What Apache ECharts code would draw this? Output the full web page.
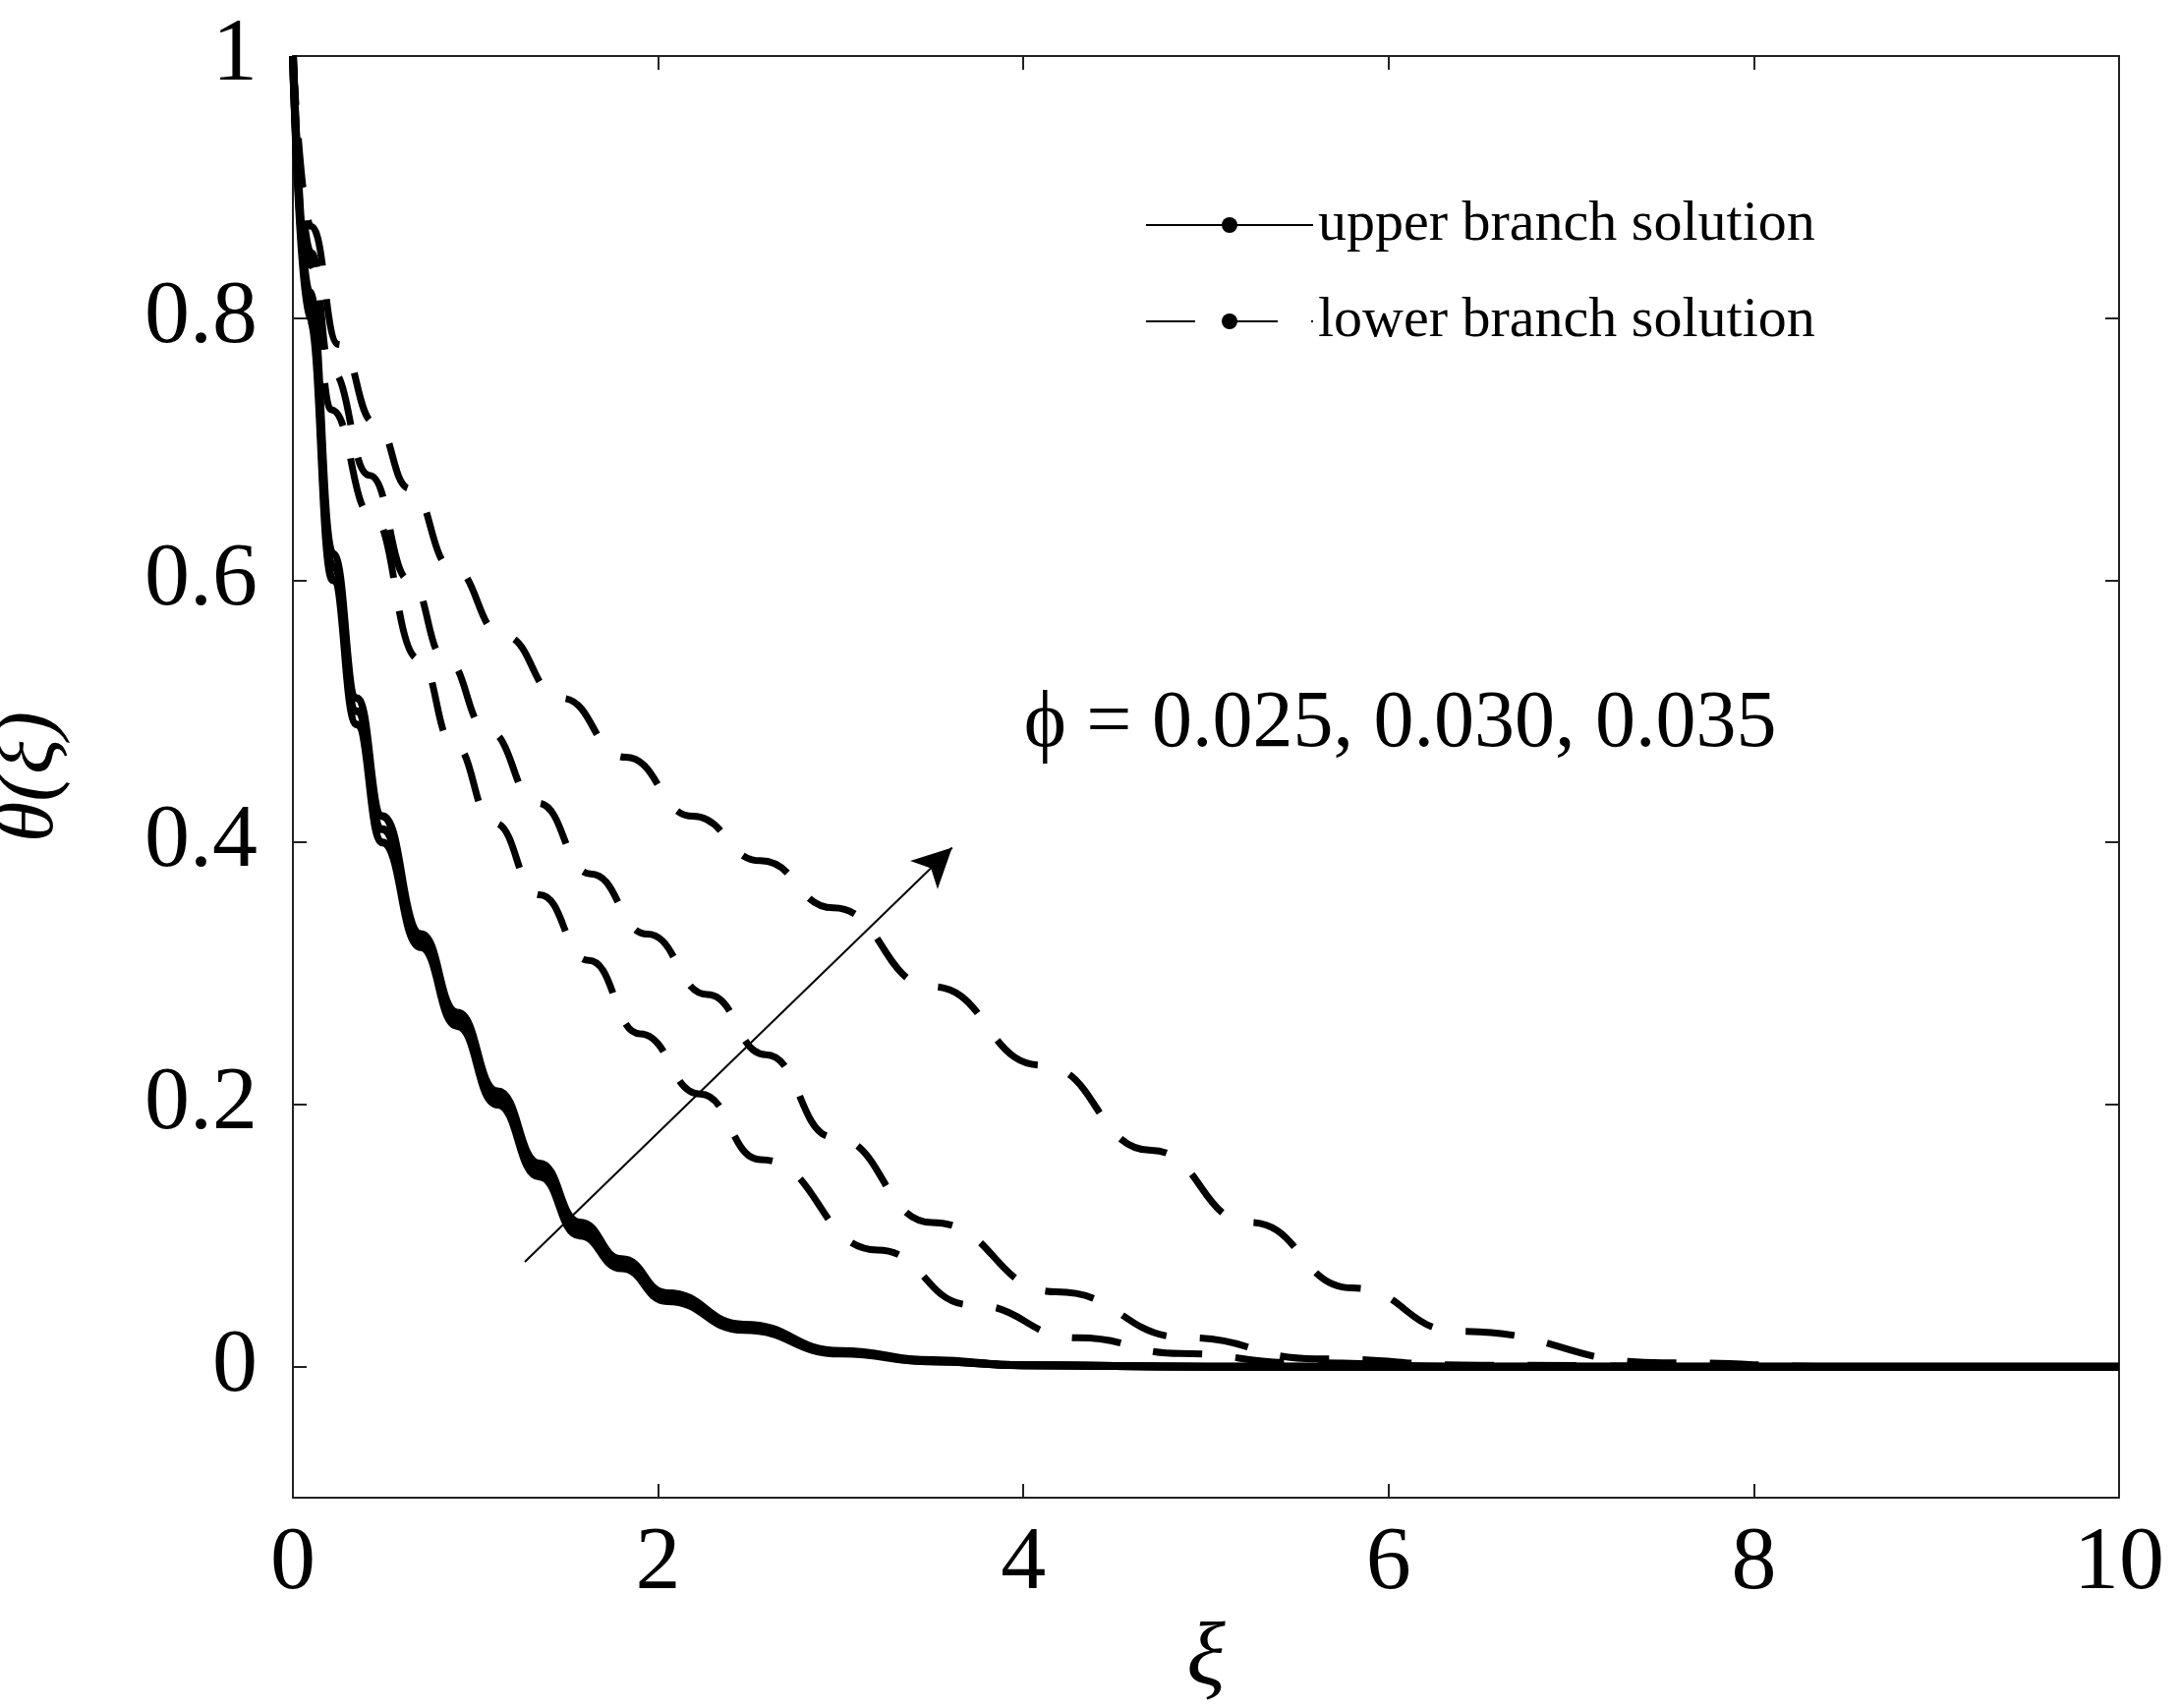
<!DOCTYPE html>
<html>
<head>
<meta charset="utf-8">
<script src="https://cdn.jsdelivr.net/npm/echarts@6/dist/echarts.min.js"></script>
<style>html,body{margin:0;padding:0;background:#fff}#main{width:2217px;height:1738px}</style>
</head>
<body>
<div id="main"></div>
<script>
// upper branch (three nearly coincident solid curves)
var upperX = [0, 0.09, 0.22, 0.35, 0.49, 0.7, 0.9, 1.12, 1.35, 1.57, 1.8, 2.05, 2.47, 3.0, 3.5, 4.0, 5, 6, 8, 10];
var upperA = [1, 0.80, 0.60, 0.49, 0.40, 0.32, 0.26, 0.20, 0.145, 0.10, 0.075, 0.05, 0.028, 0.01, 0.004, 0.001, 0, 0, 0, 0];
var upperB = [1, 0.81, 0.61, 0.50, 0.41, 0.325, 0.265, 0.205, 0.15, 0.105, 0.078, 0.053, 0.03, 0.011, 0.004, 0.001, 0, 0, 0, 0];
var upperC = [1, 0.82, 0.62, 0.51, 0.42, 0.33, 0.27, 0.21, 0.155, 0.11, 0.082, 0.056, 0.032, 0.012, 0.005, 0.001, 0, 0, 0, 0];

// lower branch (dashed)
var lower1X = [0, 0.1, 0.21, 0.43, 0.69, 0.88, 1.1, 1.35, 1.62, 1.9, 2.23, 2.56, 3.2, 3.72, 4.3, 4.86, 5.5, 6.5, 8, 10];
var lower1Y = [1, 0.84, 0.73, 0.65, 0.54, 0.475, 0.415, 0.36, 0.31, 0.254, 0.208, 0.158, 0.089, 0.047, 0.022, 0.01, 0.003, 0, 0, 0];
var lower2X = [0, 0.1, 0.21, 0.42, 0.64, 0.835, 1.07, 1.34, 1.63, 1.94, 2.27, 2.59, 2.96, 3.5, 4.18, 4.9, 5.6, 6.5, 8, 10];
var lower2Y = [1, 0.85, 0.76, 0.68, 0.60, 0.54, 0.485, 0.43, 0.376, 0.33, 0.284, 0.238, 0.175, 0.11, 0.057, 0.022, 0.006, 0.001, 0, 0];
var lower3X = [0, 0.1, 0.25, 0.45, 0.64, 0.87, 1.15, 1.47, 1.82, 2.19, 2.56, 2.96, 3.5, 4.1, 4.7, 5.24, 5.8, 6.38, 7.5, 8.5, 10];
var lower3Y = [1, 0.87, 0.78, 0.72, 0.67, 0.61, 0.558, 0.51, 0.465, 0.42, 0.386, 0.35, 0.29, 0.23, 0.165, 0.11, 0.06, 0.027, 0.003, 0, 0];

var xTicks = [0, 2, 4, 6, 8, 10];
var yTicks = [0, 0.2, 0.4, 0.6, 0.8, 1];
var phiLabel = '\u03d5 = 0.025, 0.030, 0.035';
var arrowFrom = [1.27, 0.08], arrowTo = [3.61, 0.396];

function pairs(xs, ys) { return xs.map(function (x, i) { return [x, ys[i]]; }); }

var chart = echarts.init(document.getElementById('main'));
var serif = '"Liberation Serif", "DejaVu Serif", serif';
var axisLine = { show: true, onZero: false, lineStyle: { color: '#222', width: 2 } };
var tick = { inside: true, length: 14, lineStyle: { color: '#222', width: 2 } };

function solid(name, d) {
  return { name: name, type: 'line', data: d, smooth: 0.5, smoothMonotone: 'x', showSymbol: false, symbol: 'none',
    lineStyle: { color: '#000', width: 8, type: 'solid' }, itemStyle: { color: '#000' } };
}
function dashed(name, d) {
  return { name: name, type: 'line', data: d, smooth: 0.5, smoothMonotone: 'x', showSymbol: false, symbol: 'none',
    lineStyle: { color: '#000', width: 7, type: [50, 34] }, itemStyle: { color: '#000' } };
}

var up = 'upper branch solution', lo = 'lower branch solution';
var series = [
  solid(up, pairs(upperX, upperA)),
  solid(up, pairs(upperX, upperB)),
  solid(up, pairs(upperX, upperC)),
  dashed(lo, pairs(lower1X, lower1Y)),
  dashed(lo, pairs(lower2X, lower2Y)),
  dashed(lo, pairs(lower3X, lower3Y))
];
series[0].markLine = {
  silent: true, symbol: ['none', 'arrow'], symbolSize: [30, 40],
  lineStyle: { color: '#000', width: 2, type: 'solid' }, label: { show: false },
  data: [[{ coord: arrowFrom }, { coord: arrowTo }]]
};
series[0].markPoint = {
  silent: true, symbol: 'circle', symbolSize: 1, itemStyle: { color: 'transparent' },
  data: [{ coord: [4.0, 0.49] }],
  label: { show: true, position: 'right', distance: 0, formatter: phiLabel,
    fontFamily: serif, fontSize: 82, color: '#000' }
};

chart.setOption({
  animation: false,
  backgroundColor: '#fff',
  grid: { left: 298, right: 61, top: 57, bottom: 214, containLabel: false, outerBoundsMode: 'none' },
  legend: {
    orient: 'vertical', left: 1160, top: 195, itemWidth: 170, itemHeight: 20, itemGap: 40,
    data: [up, lo],
    textStyle: { fontFamily: serif, fontSize: 58, color: '#000' }
  },
  xAxis: [{
    type: 'value', min: 0, max: 10, interval: 2,
    name: '\u03be', nameLocation: 'middle', nameGap: 120,
    nameTextStyle: { fontFamily: serif, fontSize: 92, fontStyle: 'italic', color: '#000' },
    axisLine: axisLine, splitLine: { show: false }, axisTick: tick,
    axisLabel: { margin: 22, fontFamily: serif, fontSize: 92, color: '#000' }
  }, {
    type: 'value', min: 0, max: 10, interval: 2, position: 'top',
    axisLine: axisLine, splitLine: { show: false }, axisTick: tick,
    axisLabel: { show: false }
  }],
  yAxis: [{
    type: 'value', min: -0.1, max: 1,
    name: '\u03b8(\u03be)', nameLocation: 'middle', nameGap: 225,
    nameTextStyle: { fontFamily: serif, fontSize: 84, fontStyle: 'italic', color: '#000' },
    axisLine: axisLine, splitLine: { show: false },
    axisTick: Object.assign({ customValues: yTicks }, tick),
    axisLabel: { margin: 36, customValues: yTicks, fontFamily: serif, fontSize: 92, color: '#000',
      formatter: function (v) { return String(+v.toFixed(1)); } }
  }, {
    type: 'value', min: -0.1, max: 1, position: 'right',
    axisLine: axisLine, splitLine: { show: false },
    axisTick: Object.assign({ customValues: yTicks }, tick),
    axisLabel: { show: false }
  }],
  series: series
});
</script>
</body>
</html>
